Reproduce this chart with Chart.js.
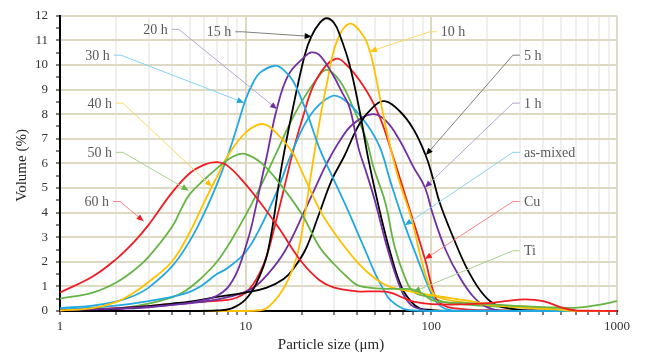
<!DOCTYPE html>
<html>
<head>
<meta charset="utf-8">
<script src="https://cdn.jsdelivr.net/npm/chart.js@4/dist/chart.umd.min.js"></script>
<style>
  html, body { margin: 0; padding: 0; background: #fff; }
  #wrap { width: 646px; height: 359px; }
</style>
</head>
<body>
<div id="wrap"><canvas id="c" width="646" height="359"></canvas></div>
<script>
// ---------- DATA (particle size in µm, volume in %) ----------
const size60h = [1, 1.5, 2, 2.5, 3, 4, 5, 6, 7, 8, 10, 12, 15, 20, 25, 30, 40, 50, 60, 70, 80, 100, 150, 200, 250, 320, 400, 500, 600, 1000];
const vol60h  = [0.75, 1.4, 2.1, 2.8, 3.5, 4.8, 5.6, 5.95, 6.05, 5.9, 5.15, 4.4, 3.4, 2.0, 1.25, 0.95, 0.8, 0.8, 0.75, 0.55, 0.38, 0.28, 0.27, 0.32, 0.4, 0.47, 0.4, 0.15, 0.02, 0];

const size50h = [1, 1.5, 2, 2.5, 3, 4, 4.5, 5, 6, 7, 8, 9, 10, 12, 15, 20, 25, 30, 35, 40, 50, 60, 70, 80, 90, 100, 120, 150, 200, 300, 400, 600, 800, 1000];
const vol50h  = [0.5, 0.75, 1.15, 1.65, 2.2, 3.4, 4.15, 4.75, 5.35, 5.8, 6.15, 6.35, 6.38, 6.05, 5.25, 3.95, 2.6, 1.9, 1.4, 1.05, 0.92, 0.9, 0.9, 0.87, 0.7, 0.45, 0.35, 0.33, 0.28, 0.2, 0.16, 0.13, 0.25, 0.4];

const size40h = [1, 1.5, 2, 2.5, 3, 4, 5, 6, 7, 8, 10, 12.4, 15, 18, 20, 25, 30, 40, 50, 60, 80, 100, 150, 225, 340, 500, 600, 1000];
const vol40h  = [0.02, 0.12, 0.36, 0.75, 1.18, 2.0, 3.2, 4.45, 5.45, 6.3, 7.25, 7.6, 7.15, 6.4, 5.7, 4.13, 3.18, 1.98, 1.31, 0.98, 0.77, 0.64, 0.44, 0.24, 0.17, 0.05, 0, 0];

const size30h = [1, 1.5, 2, 2.5, 3, 4, 5, 6, 7, 8, 9, 10, 11, 12, 14.4, 16, 18, 20, 22, 25, 30, 35, 40, 45, 50, 55, 60, 70, 80, 100, 1000];
const vol30h  = [0.12, 0.22, 0.38, 0.62, 0.95, 1.8, 2.85, 4.0, 5.15, 6.3, 7.5, 8.6, 9.3, 9.7, 9.97, 9.8, 9.35, 8.6, 7.8, 6.6, 5.3, 4.2, 3.2, 2.3, 1.5, 0.9, 0.45, 0.1, 0.02, 0, 0];

const size20h = [1, 2, 3, 4, 5, 6, 7, 8, 9, 10, 10.8, 12.4, 13, 14.7, 17, 20.8, 22.6, 25, 29.5, 33, 36.3, 40.6, 44.8, 49.8, 58.5, 69, 78, 90, 100, 1000];
const vol20h  = [0.03, 0.1, 0.17, 0.25, 0.33, 0.45, 0.62, 0.95, 1.6, 2.6, 3.5, 5.6, 6.3, 8.2, 9.6, 10.34, 10.51, 10.4, 9.6, 8.9, 8.27, 6.6, 5.6, 4.45, 2.45, 0.84, 0.24, 0.05, 0, 0];

const size15h = [1, 5, 7, 8.4, 9.9, 11.4, 13.2, 15.6, 18, 20.8, 22.6, 25, 27.3, 30, 32.2, 36.3, 41.1, 46, 53.8, 61.1, 69, 78, 86.5, 100, 120, 1000];
const vol15h  = [0, 0, 0.02, 0.11, 0.44, 1.11, 2.45, 5.86, 8.27, 10.4, 11.16, 11.7, 11.9, 11.7, 11.2, 10.0, 8.13, 6.1, 3.78, 2.18, 0.98, 0.37, 0.11, 0.04, 0, 0];

const size10h = [1, 10, 12, 13, 15, 17, 18.8, 20.3, 22.6, 25, 27.3, 30.9, 36.3, 42.9, 46.7, 50, 55, 60, 67, 78, 88.6, 100, 110, 150, 200, 300, 500, 600, 1000];
const vol10h  = [0, 0, 0.03, 0.11, 0.6, 1.3, 2.18, 3.4, 5.66, 7.7, 9.2, 10.94, 11.68, 11.2, 10.55, 9.6, 8.0, 6.7, 5.3, 3.78, 2.05, 0.84, 0.55, 0.35, 0.25, 0.15, 0.05, 0, 0];

const size5h = [1, 2, 3, 4, 5, 7, 10, 13, 16, 18, 21, 24.6, 29, 34, 41, 48.7, 56, 67, 80, 93, 102, 111, 131, 155, 183, 215, 265, 350, 500, 1000];
const vol5h  = [0.02, 0.1, 0.2, 0.3, 0.38, 0.57, 0.75, 0.95, 1.3, 1.7, 2.5, 3.85, 5.3, 6.3, 7.6, 8.3, 8.53, 8.15, 7.4, 6.35, 5.4, 4.4, 3.0, 1.75, 0.84, 0.31, 0.1, 0.02, 0, 0];

const size1h = [1, 2, 3, 4, 5.8, 8.1, 10.8, 13.2, 16.3, 21, 24, 27.3, 32.2, 37.9, 48.3, 57, 67.6, 80, 92.4, 102, 120, 142, 169, 198, 250, 1000];
const vol1h  = [0.02, 0.08, 0.15, 0.25, 0.37, 0.57, 0.91, 1.51, 2.45, 4.15, 5.1, 5.99, 6.93, 7.6, 8.0, 7.73, 6.93, 5.86, 5.02, 3.92, 2.45, 1.38, 0.57, 0.17, 0, 0];

const sizeMixed = [1, 2, 3, 4.7, 5.7, 7, 8, 10, 12, 15, 17, 19.6, 22, 25, 29.6, 33, 37.9, 44.8, 52.8, 60, 72, 85, 96.5, 108, 130, 1000];
const volMixed  = [0.05, 0.22, 0.4, 0.71, 1.0, 1.5, 1.75, 2.4, 3.4, 5.0, 6.1, 7.2, 7.9, 8.4, 8.75, 8.65, 8.27, 7.6, 6.66, 5.3, 3.49, 2.05, 0.98, 0.31, 0.02, 0];

const sizeCu = [1, 2, 3, 4.7, 6, 8, 9, 10, 11, 12, 13, 14.4, 16.6, 17.6, 20, 24, 30.4, 36.3, 44.8, 52.8, 60, 75, 92.4, 105, 115, 130, 200, 1000];
const volCu  = [0.02, 0.12, 0.2, 0.33, 0.38, 0.45, 0.55, 0.75, 1.1, 1.6, 2.25, 3.5, 5.4, 6.2, 7.7, 9.4, 10.25, 9.87, 8.94, 7.87, 6.66, 4.32, 2.11, 0.57, 0.25, 0.12, 0.03, 0];

const sizeTi = [1, 2, 3, 4, 4.7, 5.7, 7, 8.4, 10, 12, 13.2, 15, 17, 20, 24, 27.3, 32.2, 37.9, 44.8, 48.7, 56.3, 63.6, 72, 80, 100, 120, 200, 400, 600, 1000];
const volTi  = [0.03, 0.1, 0.3, 0.55, 0.8, 1.3, 2.0, 2.9, 3.9, 5.05, 5.7, 6.6, 7.5, 8.5, 9.4, 9.8, 9.34, 8.27, 6.93, 5.86, 4.45, 2.58, 1.38, 0.78, 0.55, 0.35, 0.2, 0.1, 0, 0];

const seriesNames = ['60 h', '50 h', '40 h', '30 h', '20 h', '15 h', '10 h', '5 h', '1 h', 'as-mixed', 'Cu', 'Ti'];
const seriesSizes = [size60h, size50h, size40h, size30h, size20h, size15h, size10h, size5h, size1h, sizeMixed, sizeCu, sizeTi];
const seriesVols  = [vol60h, vol50h, vol40h, vol30h, vol20h, vol15h, vol10h, vol5h, vol1h, volMixed, volCu, volTi];

// axis ticks
const xTickValues = [1,2,3,4,5,6,7,8,9,10,20,30,40,50,60,70,80,90,100,200,300,400,500,600,700,800,900,1000];
const xTickLabels = [1, 10, 100, 1000];
const yMin = 0, yMax = 12, yStep = 0.5;

// callout labels: text, label anchor (µm, %), arrow tip (µm, %), text side
const noteTexts = ['20 h', '30 h', '40 h', '50 h', '60 h', '15 h', '10 h', '5 h', '1 h', 'as-mixed', 'Cu', 'Ti'];
const noteLabelX = [4.0, 1.95, 2.0, 2.0, 1.93, 8.8, 107, 300, 300, 300, 300, 300];
const noteLabelY = [11.45, 10.4, 8.45, 6.45, 4.45, 11.35, 11.35, 10.4, 8.45, 6.45, 4.45, 2.45];
const noteTipX = [14.74, 9.79, 6.58, 4.92, 2.82, 22.67, 46.7, 93.5, 92.4, 72.1, 92.4, 80.1];
const noteTipY = [8.21, 8.47, 5.06, 4.90, 3.65, 11.16, 10.55, 6.34, 5.02, 3.49, 2.11, 0.78];
const noteSide = ['left','left','left','left','left','left','right','right','right','right','right','right'];

// ---------- STYLE ----------
const RED = '#EE1D23', GREEN = '#66B445', YELLOW = '#FFC000', BLUE = '#22A8E0', PURPLE = '#7030A0', BLACK = '#000000';
const seriesColors = [RED, GREEN, YELLOW, BLUE, PURPLE, BLACK, YELLOW, BLACK, PURPLE, BLUE, RED, GREEN];
const noteLineColors = ['#B9A3D3', '#86D3F2', '#FFD966', '#A9D18E', '#FF8080', '#808080', '#FFD966', '#808080', '#B9A3D3', '#86D3F2', '#FF8080', '#A9D18E'];
const BEIGE = '#DDD9C3', MINOR = '#EFEFEF';
const SERIF = '"Liberation Serif", "Times New Roman", serif';

const datasets = seriesNames.map((name, i) => ({
  label: name,
  data: seriesSizes[i].map((s, j) => ({ x: s, y: seriesVols[i][j] })),
  borderColor: seriesColors[i],
  backgroundColor: seriesColors[i],
  borderWidth: 1.8,
  pointRadius: 0,
  fill: false,
  tension: 0.4,
  clip: false
}));

const annoPlugin = {
  id: 'anno',
  afterDatasetsDraw(chart) {
    const { ctx, scales: { x, y } } = chart;
    ctx.save();
    noteTexts.forEach((t, i) => {
      const lx = x.getPixelForValue(noteLabelX[i]);
      const ly = y.getPixelForValue(noteLabelY[i]);
      const tx = x.getPixelForValue(noteTipX[i]);
      const ty = y.getPixelForValue(noteTipY[i]);
      const dir = noteSide[i] === 'left' ? 1 : -1;
      const ex = lx + dir * 7;
      ctx.strokeStyle = noteLineColors[i];
      ctx.lineWidth = 1;
      ctx.beginPath();
      ctx.moveTo(lx, ly);
      ctx.lineTo(ex, ly);
      ctx.lineTo(tx, ty);
      ctx.stroke();
      const ang = Math.atan2(ty - ly, tx - ex);
      const L = 7, W = 3;
      const bx = tx - L * Math.cos(ang), by = ty - L * Math.sin(ang);
      ctx.fillStyle = seriesColors[seriesNames.indexOf(t)];
      ctx.beginPath();
      ctx.moveTo(tx, ty);
      ctx.lineTo(bx + W * Math.sin(ang), by - W * Math.cos(ang));
      ctx.lineTo(bx - W * Math.sin(ang), by + W * Math.cos(ang));
      ctx.closePath();
      ctx.fill();
      ctx.font = '14px ' + SERIF;
      ctx.fillStyle = '#595959';
      ctx.textBaseline = 'middle';
      ctx.textAlign = dir === 1 ? 'right' : 'left';
      ctx.fillText(t, lx - dir * 4, ly + 1);
    });
    ctx.restore();
  },
  afterDraw(chart) {
    const { ctx, chartArea } = chart;
    ctx.save();
    ctx.font = '15px ' + SERIF;
    ctx.fillStyle = '#262626';
    ctx.textAlign = 'center';
    ctx.textBaseline = 'middle';
    ctx.fillText('Particle size (\u03bcm)', 331, 345);
    ctx.translate(22, (chartArea.top + chartArea.bottom) / 2 + 2);
    ctx.rotate(-Math.PI / 2);
    ctx.fillText('Volume (%)', 0, 0);
    ctx.restore();
  }
};

new Chart(document.getElementById('c'), {
  type: 'line',
  data: { datasets },
  options: {
    responsive: false,
    animation: false,
    devicePixelRatio: 1,
    layout: { padding: { left: 0, right: 29, top: 12, bottom: 0 } },
    plugins: { legend: { display: false }, tooltip: { enabled: false } },
    scales: {
      x: {
        type: 'logarithmic',
        min: 1, max: 1000,
        afterBuildTicks: s => { s.ticks = xTickValues.map(v => ({ value: v })); },
        afterFit: s => { s.height = 48; },
        ticks: {
          autoSkip: false, maxRotation: 0, minRotation: 0, padding: 4,
          color: '#333', font: { family: SERIF, size: 13 },
          callback: v => xTickLabels.includes(v) ? String(v) : ''
        },
        grid: {
          color: c => (c.tick && xTickLabels.includes(c.tick.value)) ? BEIGE : MINOR,
          lineWidth: 2, tickColor: '#000', tickLength: 4, tickWidth: 1
        },
        border: { color: '#000', width: 2 }
      },
      y: {
        min: yMin, max: yMax,
        afterFit: s => { s.width = 60; },
        ticks: {
          stepSize: yStep, autoSkip: false, padding: 8,
          color: '#333', font: { family: SERIF, size: 13 },
          callback: v => Number.isInteger(v) ? String(v) : ''
        },
        grid: {
          color: c => (c.tick && Number.isInteger(c.tick.value)) ? BEIGE : 'rgba(0,0,0,0)',
          lineWidth: 2, tickColor: '#000', tickLength: 4, tickWidth: 1
        },
        border: { color: '#000', width: 2 }
      }
    }
  },
  plugins: [annoPlugin]
});
</script>
</body>
</html>
